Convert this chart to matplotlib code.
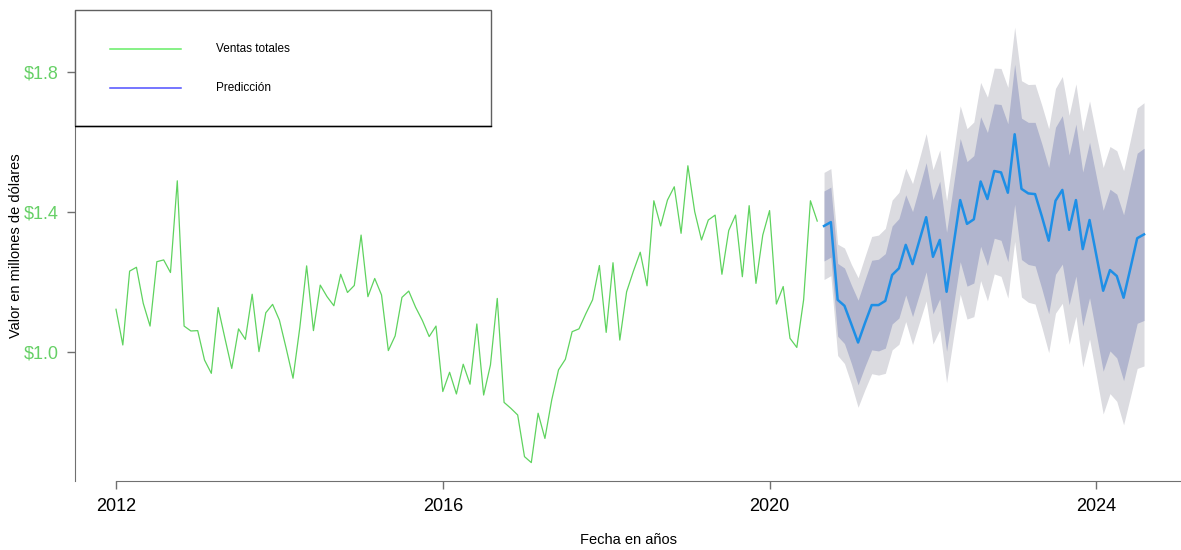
import matplotlib
matplotlib.use("Agg")

import numpy as np
import matplotlib.pyplot as plt
from matplotlib.patches import Rectangle
from matplotlib.lines import Line2D

plt.rcParams['font.family'] = ['Liberation Sans', 'DejaVu Sans']

# monthly series, Jan 2012 - Aug 2020 (millions of dollars)
ventas = [
    1.122, 1.020, 1.231, 1.242, 1.139, 1.074, 1.258, 1.263, 1.227, 1.489, 1.074, 1.060,
    1.061, 0.977, 0.939, 1.127, 1.039, 0.953, 1.066, 1.036, 1.165, 1.001, 1.112, 1.136,
    1.091, 1.010, 0.925, 1.070, 1.246, 1.061, 1.191, 1.158, 1.132, 1.222, 1.170, 1.190,
    1.334, 1.158, 1.210, 1.163, 1.004, 1.046, 1.156, 1.174, 1.128, 1.090, 1.044, 1.074,
    0.887, 0.942, 0.880, 0.965, 0.908, 1.080, 0.877, 0.963, 1.153, 0.856, 0.839, 0.820,
    0.701, 0.684, 0.825, 0.753, 0.863, 0.949, 0.979, 1.058, 1.066, 1.109, 1.149, 1.247,
    1.056, 1.255, 1.034, 1.172, 1.231, 1.285, 1.189, 1.432, 1.360, 1.434, 1.472, 1.339,
    1.532, 1.401, 1.320, 1.377, 1.391, 1.222, 1.347, 1.391, 1.215, 1.418, 1.196, 1.334,
    1.404, 1.137, 1.187, 1.039, 1.013, 1.149, 1.432, 1.374,
]

# forecast Sep 2020 - Aug 2024
pred = [
    1.360, 1.371, 1.149, 1.132, 1.080, 1.027, 1.082, 1.134, 1.134, 1.146, 1.220, 1.239,
    1.306, 1.251, 1.318, 1.385, 1.272, 1.320, 1.172, 1.303, 1.434, 1.366, 1.379, 1.487,
    1.437, 1.517, 1.513, 1.455, 1.622, 1.466, 1.453, 1.451, 1.387, 1.318, 1.432, 1.463,
    1.349, 1.434, 1.294, 1.377, 1.276, 1.175, 1.234, 1.217, 1.155, 1.239, 1.325, 1.336,
]
lo80 = [
    1.260, 1.271, 1.045, 1.024, 0.968, 0.906, 0.958, 1.006, 1.003, 1.011, 1.080, 1.097,
    1.163, 1.101, 1.165, 1.229, 1.109, 1.152, 1.002, 1.131, 1.258, 1.188, 1.197, 1.302,
    1.247, 1.325, 1.319, 1.258, 1.422, 1.264, 1.250, 1.246, 1.180, 1.109, 1.222, 1.251,
    1.135, 1.217, 1.074, 1.155, 1.051, 0.945, 1.003, 0.983, 0.918, 0.999, 1.082, 1.090,
]
hi80 = [
    1.460, 1.471, 1.253, 1.240, 1.192, 1.148, 1.206, 1.262, 1.265, 1.281, 1.360, 1.381,
    1.449, 1.401, 1.471, 1.541, 1.435, 1.488, 1.342, 1.475, 1.610, 1.544, 1.561, 1.672,
    1.627, 1.709, 1.707, 1.652, 1.822, 1.668, 1.656, 1.656, 1.594, 1.527, 1.642, 1.675,
    1.563, 1.651, 1.514, 1.599, 1.501, 1.405, 1.465, 1.451, 1.392, 1.479, 1.568, 1.582,
]
lo95 = [
    1.207, 1.218, 0.990, 0.967, 0.909, 0.842, 0.892, 0.938, 0.934, 0.939, 1.006, 1.022,
    1.087, 1.021, 1.084, 1.146, 1.023, 1.063, 0.912, 1.040, 1.165, 1.094, 1.101, 1.204,
    1.146, 1.223, 1.216, 1.154, 1.316, 1.157, 1.142, 1.137, 1.070, 0.998, 1.111, 1.139,
    1.022, 1.102, 0.957, 1.037, 0.932, 0.823, 0.881, 0.859, 0.792, 0.872, 0.953, 0.960,
]
hi95 = [
    1.513, 1.524, 1.308, 1.297, 1.251, 1.212, 1.272, 1.330, 1.334, 1.353, 1.434, 1.456,
    1.525, 1.481, 1.552, 1.624, 1.521, 1.577, 1.432, 1.566, 1.703, 1.638, 1.657, 1.770,
    1.728, 1.811, 1.810, 1.756, 1.928, 1.775, 1.764, 1.765, 1.704, 1.638, 1.753, 1.787,
    1.676, 1.766, 1.631, 1.717, 1.620, 1.527, 1.587, 1.575, 1.518, 1.606, 1.697, 1.712,
]

y_ticks = [1.0, 1.4, 1.8]
y_labels = ["$1.0", "$1.4", "$1.8"]
x_ticks = [2012, 2016, 2020, 2024]


def main():
    t_hist = 2012 + np.arange(len(ventas)) / 12
    t_pred = 2012 + (len(ventas) + np.arange(len(pred))) / 12

    fig = plt.figure(figsize=(11.81, 5.5), dpi=100)
    ax = fig.add_axes([75 / 1181, 69 / 550, 1106 / 1181, 471 / 550])

    ax.fill_between(t_pred, lo95, hi95, color="#dbdbe0", linewidth=0)
    ax.fill_between(t_pred, lo80, hi80, color="#b1b5ce", linewidth=0)
    ax.plot(t_hist, ventas, color="#5fd35f", linewidth=0.9)
    ax.plot(t_pred, pred, color="#1e8fe6", linewidth=1.8)

    ax.set_xlim(2011.498, 2025.036)
    ax.set_ylim(0.6314, 1.977)

    ax.set_xticks(x_ticks)
    ax.set_xticklabels([str(x) for x in x_ticks], fontsize=13)
    ax.set_yticks(y_ticks)
    ax.set_yticklabels(y_labels, fontsize=13, color="#66d066")
    ax.tick_params(axis="both", length=6, width=1, color="#707070", pad=6)

    for side in ["top", "right"]:
        ax.spines[side].set_visible(False)
    ax.spines["left"].set_color("#707070")
    ax.spines["bottom"].set_color("#707070")
    ax.spines["bottom"].set_bounds(2012, 2025.036)

    ax.set_xlabel("Fecha en años", fontsize=10.5)
    ax.xaxis.set_label_coords(0.5, -0.11)
    ax.set_ylabel("Valor en millones de dólares", fontsize=10.5)
    ax.yaxis.set_label_coords(-0.047, 0.5)

    # legend box, drawn by hand like the R version
    ax.add_patch(Rectangle((0, 0.7537), 0.376, 0.2463, transform=ax.transAxes,
                           facecolor="white", edgecolor="#606060", linewidth=1, zorder=5,
                           clip_on=False))
    ax.add_line(Line2D([0, 0.376], [0.7537, 0.7537], transform=ax.transAxes,
                       color="black", linewidth=1, zorder=6))
    ax.add_line(Line2D([0.0316, 0.0958], [0.917, 0.917], transform=ax.transAxes,
                       color="#66ee66", linewidth=1.1, zorder=6))
    ax.add_line(Line2D([0.0316, 0.0958], [0.834, 0.834], transform=ax.transAxes,
                       color="#4f4fff", linewidth=1.1, zorder=6))
    ax.text(0.1275, 0.917, "Ventas totales", transform=ax.transAxes, fontsize=8.5,
            va="center", zorder=6)
    ax.text(0.1275, 0.834, "Predicción", transform=ax.transAxes, fontsize=8.5,
            va="center", zorder=6)

    fig.savefig("out.png", dpi=100)


if __name__ == '__main__':
    main()
